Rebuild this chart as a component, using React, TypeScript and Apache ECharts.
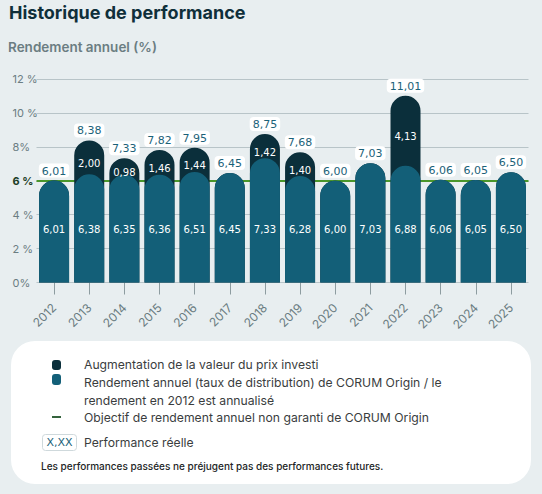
import { useEffect, useRef } from "react";
import * as echarts from "echarts";

const years = ["2012", "2013", "2014", "2015", "2016", "2017", "2018", "2019", "2020", "2021", "2022", "2023", "2024", "2025"];
// rendement annuel (taux de distribution)
const rendement = [6.01, 6.38, 6.35, 6.36, 6.51, 6.45, 7.33, 6.28, 6.0, 7.03, 6.88, 6.06, 6.05, 6.5];
// augmentation de la valeur du prix investi
const augmentation = [null, 2.0, 0.98, 1.46, 1.44, null, 1.42, 1.4, null, null, 4.13, null, null, null];
// performance réelle
const performance = [6.01, 8.38, 7.33, 7.82, 7.95, 6.45, 8.75, 7.68, 6.0, 7.03, 11.01, 6.06, 6.05, 6.5];
const yTickLabels = ["0%", "2 %", "4 %", "6 %", "8%", "10 %", "12 %"];
const objectif = 6;

const DARK = "#0b2f3b";
const TEAL = "#135f78";
const GREEN = "#4a962b";
const NUM_FONT = "DejaVu Sans";

const fmt = (v: number) => v.toFixed(2).replace(".", ",");

function buildOption(): echarts.EChartsOption {
  const legendX = 84;
  return {
    animation: false,
    backgroundColor: "#e8eef0",
    title: [
      {
        text: "Historique de performance",
        left: 9,
        top: 3,
        padding: 0,
        textStyle: { fontFamily: "Inter", fontSize: 18, fontWeight: "bold", color: "#0f2f3a" },
      },
      {
        text: "Rendement annuel (%)",
        left: 8,
        top: 40,
        padding: 0,
        textStyle: { fontFamily: "Inter", fontSize: 13.5, fontWeight: 600, color: "#6b7d82" },
      },
    ],
    grid: { left: 36.5, right: 13.5, top: 79, bottom: 211.5, containLabel: false },
    xAxis: {
      type: "category",
      data: years,
      axisLine: { show: false },
      axisTick: { show: true, alignWithLabel: true, length: 12, lineStyle: { color: "#8d9ca0" } },
      axisLabel: { rotate: 45, margin: 23, fontFamily: "Inter", fontSize: 12, color: "#6a7c81" },
    },
    yAxis: {
      type: "value",
      min: 0,
      max: 12,
      interval: 2,
      axisLine: { show: false },
      axisTick: { show: false },
      splitLine: { lineStyle: { color: "#b8c4c8", width: 1 } },
      axisLabel: {
        align: "left",
        margin: 24,
        fontFamily: "Inter",
        fontSize: 11,
        color: "#6b7d82",
        formatter: (v: number) => {
          const s = yTickLabels[Math.round(v / 2)];
          return v === objectif ? `{goal|${s}}` : s;
        },
        rich: { goal: { fontFamily: "Inter", fontSize: 11, fontWeight: "bold", color: "#1d3f27" } },
      },
    },
    series: [
      {
        name: "Objectif de rendement annuel non garanti de CORUM Origin",
        type: "line",
        data: [],
        z: 1,
        markLine: {
          silent: true,
          z: 1,
          symbol: "none",
          label: { show: false },
          lineStyle: { color: GREEN, width: 2, type: "solid" },
          data: [{ yAxis: objectif }],
        },
      },
      {
        name: "Augmentation de la valeur du prix investi",
        type: "bar",
        data: performance,
        barWidth: 30,
        barGap: "-100%",
        z: 2,
        itemStyle: { color: DARK, borderRadius: [15, 15, 0, 0] },
        label: {
          show: true,
          position: "top",
          distance: 3,
          formatter: (p: any) => fmt(p.value),
          backgroundColor: "#ffffff",
          borderRadius: 4,
          padding: [2, 3, 1, 3],
          color: "#1b6279",
          fontFamily: NUM_FONT,
          fontSize: 11,
        },
      },
      {
        name: "Rendement annuel (taux de distribution) de CORUM Origin",
        type: "bar",
        stack: "r",
        data: rendement,
        barWidth: 30,
        barGap: "-100%",
        z: 3,
        itemStyle: { color: TEAL, borderRadius: [15, 15, 0, 0] },
        label: {
          show: true,
          position: "insideBottom",
          distance: 48,
          formatter: (p: any) => fmt(p.value),
          color: "#ffffff",
          fontFamily: NUM_FONT,
          fontSize: 10,
        },
      },
      {
        name: "augmentation-label",
        type: "bar",
        stack: "r",
        data: augmentation.map((v) => (v == null ? "-" : v)),
        barWidth: 30,
        barGap: "-100%",
        z: 4,
        itemStyle: { color: "rgba(0,0,0,0)" },
        label: {
          show: true,
          position: "inside",
          offset: [0, 6],
          formatter: (p: any) => fmt(p.value),
          color: "#ffffff",
          fontFamily: NUM_FONT,
          fontSize: 10,
        },
      },
    ],
    graphic: [
      {
        type: "rect",
        shape: { x: 11, y: 341, width: 520, height: 143, r: 24 },
        style: { fill: "#ffffff" },
        z: 0,
      },
      { type: "rect", shape: { x: 52, y: 360, width: 9, height: 10, r: 3 }, style: { fill: DARK } },
      { type: "rect", shape: { x: 52, y: 374, width: 9, height: 11, r: 3 }, style: { fill: TEAL } },
      { type: "rect", shape: { x: 52, y: 416, width: 9, height: 2 }, style: { fill: "#35633d" } },
      {
        type: "rect",
        shape: { x: 42.5, y: 434.5, width: 34, height: 16, r: 3 },
        style: { fill: "#ffffff", stroke: "#cfd9dc", lineWidth: 1 },
      },
      {
        type: "text",
        x: 59.5,
        y: 442.5,
        style: { text: "X,XX", align: "center", verticalAlign: "middle", fill: "#1b6279", font: `11px "${NUM_FONT}"` },
      },
      ...[
        { t: "Augmentation de la valeur du prix investi", y: 364 },
        { t: "Rendement annuel (taux de distribution) de CORUM Origin / le", y: 382 },
        { t: "rendement en 2012 est annualisé", y: 400 },
        { t: "Objectif de rendement annuel non garanti de CORUM Origin", y: 417 },
        { t: "Performance réelle", y: 442 },
      ].map((l) => ({
        type: "text" as const,
        x: legendX,
        y: l.y,
        style: { text: l.t, verticalAlign: "middle" as const, fill: "#3a3d3e", font: "12.2px Inter" },
      })),
      {
        type: "text",
        x: 41,
        y: 466,
        style: {
          text: "Les performances passées ne préjugent pas des performances futures.",
          verticalAlign: "middle",
          fill: "#222526",
          font: "500 10px Inter",
        },
      },
    ],
  };
}

export default function App() {
  const chartRef = useRef<HTMLDivElement>(null);

  useEffect(() => {
    if (!chartRef.current) return;
    const chart = echarts.init(chartRef.current, undefined, { renderer: "svg" });
    chart.setOption(buildOption());
    return () => chart.dispose();
  }, []);

  return <div ref={chartRef} style={{ position: "absolute", left: 0, top: 0, width: 542, height: 494 }} />;
}
